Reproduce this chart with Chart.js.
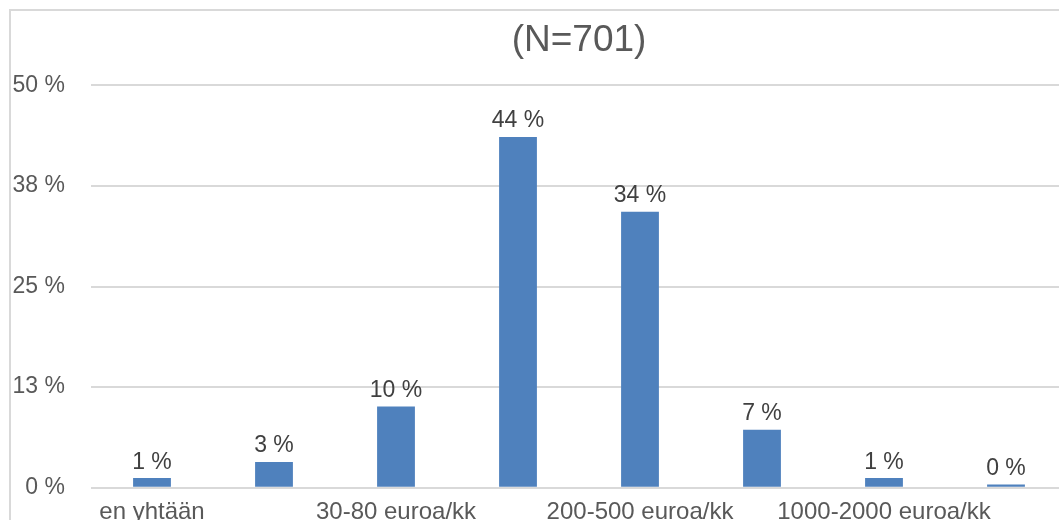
<!DOCTYPE html>
<html>
<head>
<meta charset="utf-8">
<script src="https://cdn.jsdelivr.net/npm/chart.js@4.4.1/dist/chart.umd.min.js"></script>
<style>
  html, body { margin: 0; padding: 0; background: #ffffff; overflow: hidden; }
  #frame {
    position: absolute; left: 9px; top: 9px;
    border-left: 2px solid #d9d9d9; border-top: 2px solid #d9d9d9;
  }
  canvas { display: block; }
</style>
</head>
<body>
<div id="frame"><canvas id="chart" width="1140" height="560"></canvas></div>
<script>
// Monthly spending categories and the share of respondents in each
const categories = [
  'en yhtään',
  'alle 30 euroa/kk',
  '30-80 euroa/kk',
  '80-200 euroa/kk',
  '200-500 euroa/kk',
  '500-1000 euroa/kk',
  '1000-2000 euroa/kk',
  'yli 2000 euroa/kk'
];
const shares = [1.2, 3.2, 10.1, 43.6, 34.3, 7.2, 1.2, 0.4];
const yTicks = [0, 12.5, 25, 37.5, 50];
const titleText = '(N=701)';

const FONT = '"Liberation Sans", Arial, Helvetica, sans-serif';
const pct = v => Math.round(v) + ' %';

// Writes each bar's rounded share just above it
const valueLabels = {
  id: 'valueLabels',
  afterDatasetsDraw(chart) {
    const ctx = chart.ctx;
    const meta = chart.getDatasetMeta(0);
    ctx.save();
    ctx.font = '23px ' + FONT;
    ctx.fillStyle = '#404040';
    ctx.textAlign = 'center';
    ctx.textBaseline = 'alphabetic';
    meta.data.forEach((bar, i) => {
      ctx.fillText(pct(shares[i]), bar.x, bar.y - 9.5);
    });
    ctx.restore();
  }
};

new Chart(document.getElementById('chart'), {
  type: 'bar',
  data: {
    labels: categories,
    datasets: [{
      data: shares,
      backgroundColor: '#4f81bd',
      borderWidth: 0,
      barPercentage: 0.31,
      categoryPercentage: 1
    }]
  },
  options: {
    responsive: false,
    animation: false,
    devicePixelRatio: 1,
    layout: { padding: { left: 0, right: 84, top: 0, bottom: 43.3 } },
    plugins: {
      legend: { display: false },
      tooltip: { enabled: false },
      title: {
        display: true,
        text: titleText,
        fullSize: false,
        color: '#595959',
        font: { family: FONT, size: 37, weight: 'normal' },
        padding: { top: 8, bottom: 22 }
      }
    },
    scales: {
      x: {
        afterFit: scale => { scale.height = 40; },
        grid: { display: false, drawTicks: false },
        border: { display: false },
        ticks: {
          color: '#595959',
          font: { family: FONT, size: 24 },
          padding: 10.5,
          maxRotation: 0,
          minRotation: 0,
          autoSkip: true,
          autoSkipPadding: 3
        }
      },
      y: {
        min: 0,
        max: 50,
        afterBuildTicks: scale => { scale.ticks = yTicks.map(v => ({ value: v })); },
        afterFit: scale => { scale.width = 80; },
        grid: { color: '#d9d9d9', lineWidth: 2, drawTicks: false },
        border: { display: false },
        ticks: {
          color: '#595959',
          font: { family: FONT, size: 23 },
          padding: 26,
          callback: v => pct(v)
        }
      }
    }
  },
  plugins: [valueLabels]
});
</script>
</body>
</html>
